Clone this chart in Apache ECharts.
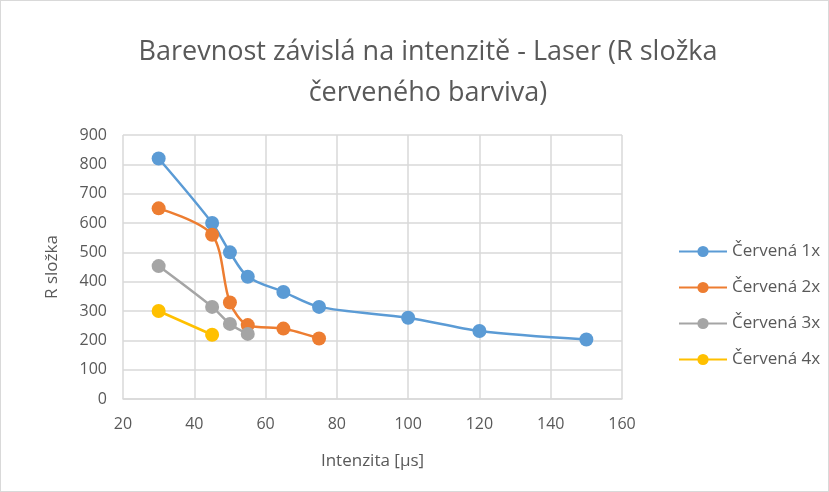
<!DOCTYPE html>
<html>
<head>
<meta charset="utf-8">
<script src="https://cdn.jsdelivr.net/npm/echarts@6/dist/echarts.min.js"></script>
<style>
html, body { margin: 0; padding: 0; background: #fff; }
#chart { width: 827px; height: 490px; border: 1px solid #d9d9d9; }
</style>
</head>
<body>
<div id="chart"></div>
<script>
// hodnoty
const seriesNames = ['Červená 1x', 'Červená 2x', 'Červená 3x', 'Červená 4x'];
const colors = ['#5b9bd5', '#ed7d31', '#a5a5a5', '#ffc000'];

const x1 = [30, 45, 50, 55, 65, 75, 100, 120, 150];
const r1 = [820, 600, 500, 417, 365, 314, 277, 232, 203];

const x2 = [30, 45, 50, 55, 65, 75];
const r2 = [650, 560, 329, 252, 240, 206];

const x3 = [30, 45, 50, 55];
const r3 = [453, 314, 256, 222];

const x4 = [30, 45];
const r4 = [300, 219];

const xs = [x1, x2, x3, x4];
const rs = [r1, r2, r3, r4];

const textColor = '#595959';
const font = '"Open Sans", "Liberation Sans", sans-serif';

var myChart = echarts.init(document.getElementById('chart'));

let seriesData = seriesNames.map((name, i) => ({
	name: name,
	type: 'line',
	smooth: 0.3,
	symbol: 'circle',
	symbolSize: 14,
	color: colors[i],
	lineStyle: { width: 2.5 },
	data: xs[i].map((x, j) => [x, rs[i][j]])
}));

var option = {
	animation: false,
	title: {
		text: 'Barevnost závislá na intenzitě - Laser (R složka\nčerveného barviva)',
		left: 422,
		textAlign: 'center',
		top: 26,
		textStyle: {
			color: textColor,
			fontFamily: font,
			fontSize: 27,
			fontWeight: 'normal',
			lineHeight: 41
		}
	},
	legend: {
		orient: 'vertical',
		left: 672,
		top: 237,
		itemGap: 19,
		itemWidth: 48,
		itemHeight: 14,
		textStyle: { color: textColor, fontFamily: font, fontSize: 17 },
		data: seriesNames
	},
	grid: {
		left: 122,
		right: 206,
		top: 134,
		bottom: 92
	},
	xAxis: {
		type: 'value',
		min: 20,
		max: 160,
		interval: 20,
		name: 'Intenzita [μs]',
		nameLocation: 'middle',
		nameGap: 54,
		nameTextStyle: { color: textColor, fontFamily: font, fontSize: 17 },
		axisLine: { show: true, lineStyle: { color: '#d9d9d9', width: 1.5 } },
		axisTick: { show: false },
		axisLabel: { color: textColor, fontFamily: font, fontSize: 16, margin: 17 },
		splitLine: { show: true, lineStyle: { color: '#d9d9d9', width: 1.5 } }
	},
	yAxis: {
		type: 'value',
		min: 0,
		max: 900,
		interval: 100,
		name: 'R složka',
		nameLocation: 'middle',
		nameRotate: 90,
		nameGap: 62,
		nameTextStyle: { color: textColor, fontFamily: font, fontSize: 17 },
		axisLine: { show: false },
		axisTick: { show: false },
		axisLabel: { color: textColor, fontFamily: font, fontSize: 16, margin: 16 },
		splitLine: { show: true, lineStyle: { color: '#d9d9d9', width: 1.5 } }
	},
	series: seriesData
};

myChart.setOption(option);
</script>
</body>
</html>
